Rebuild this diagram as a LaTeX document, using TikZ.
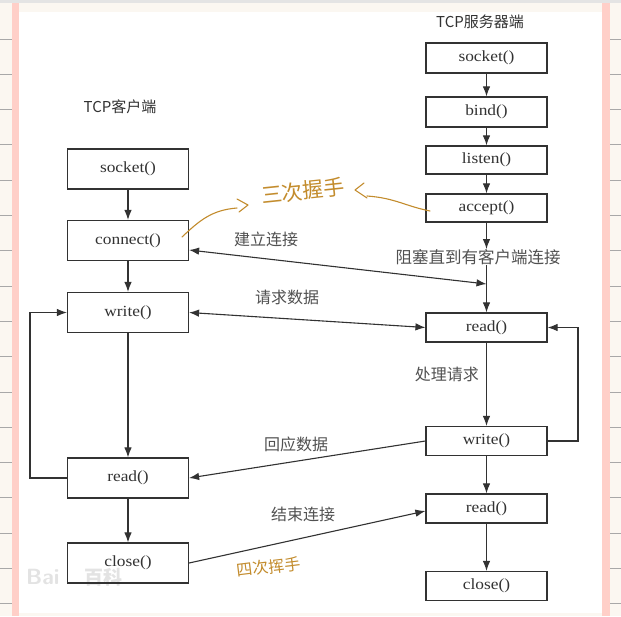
\documentclass[tikz,border=0pt]{standalone}
\usepackage{fontspec}
\setmainfont{Liberation Serif}
\newfontfamily\cjk{Noto Sans CJK SC}
\newfontfamily\boxfont[FakeStretch=1.12]{Liberation Serif}
\usetikzlibrary{arrows.meta,calc}
\definecolor{cream}{RGB}{251,247,241}
\definecolor{pinkstrip}{RGB}{255,207,200}
\definecolor{topbar}{RGB}{228,228,228}
\definecolor{marginline}{RGB}{168,168,168}
\definecolor{ink}{RGB}{50,50,50}
\definecolor{hw}{RGB}{195,140,45}
\tikzset{
  fn/.style={draw=ink, line width=1.2pt, minimum width=121pt, inner sep=0pt, font=\boxfont\fontsize{15.5}{15.5}\selectfont, text=ink},
  cbox/.style={fn, minimum height=40pt},
  sbox/.style={fn, minimum height=29pt},
  lbl/.style={font=\cjk\fontsize{16}{16}\selectfont, text=ink!85, inner sep=1pt},
  conn/.style={draw=ink, line width=1.1pt},
  arr/.style={conn, -{Latex[length=10pt,width=7.5pt]}},
  darr/.style={conn, {Latex[length=10pt,width=7.5pt]}-{Latex[length=10pt,width=7.5pt]}},
  hand/.style={draw=hw, line width=1.1pt, line cap=round, line join=round},
  handtext/.style={text=hw, font=\cjk\fontsize{21}{21}\selectfont}
}
\begin{document}
\begin{tikzpicture}[x=1pt,y=-1pt]
% background
\fill[cream] (0,0) rectangle (621,616);
\useasboundingbox (0,0) rectangle (621,616);
\fill[white] (19,12) rectangle (602,613);
\fill[topbar] (0,0) rectangle (621,3);
\fill[pinkstrip] (12,3) rectangle (19,616);
\fill[pinkstrip] (602,3) rectangle (610,616);
\foreach \k in {0,...,16}{
  \draw[marginline, line width=0.9pt] (0,{39+35.3*\k}) -- (12,{39+35.3*\k});
  \draw[marginline, line width=0.9pt] (610,{39+35.3*\k}) -- (621,{39+35.3*\k});
}
% watermark
\node[text=gray!22, font=\sffamily\bfseries\fontsize{22}{22}\selectfont, anchor=west, inner sep=0pt] (wm1) at (26,577) {Bai};
\node[text=gray!22, font=\cjk\bfseries\fontsize{19}{19}\selectfont, anchor=west, inner sep=0pt] (wm2) at (84,577) {百科};

% titles
\node[font=\cjk\fontsize{15}{15}\selectfont, text=ink] (ts) at (480,22) {TCP服务器端};
\node[font=\cjk\fontsize{15}{15}\selectfont, text=ink] (tc) at (120,107) {TCP客户端};

% client boxes
\node[cbox] (csock) at (128,169) {socket()};
\node[cbox] (cconn) at (128,240.5) {connect()};
\node[cbox] (cwrite) at (128,312.5) {write()};
\node[cbox] (cread) at (128,478) {read()};
\node[cbox] (cclose) at (128,563) {close()};

% server boxes
\node[sbox, minimum height=30pt] (ssock) at (486.5,58) {socket()};
\node[sbox, minimum height=30pt] (sbind) at (486.5,112) {bind()};
\node[sbox, minimum height=28pt] (slisten) at (486.5,160) {listen()};
\node[sbox, minimum height=28pt] (saccept) at (486.5,208) {accept()};
\node[sbox] (sread) at (486.5,327.5) {read()};
\node[sbox] (swrite) at (486.5,441) {write()};
\node[sbox] (sread2) at (486.5,508.5) {read()};
\node[sbox] (sclose) at (486.5,586) {close()};

\node[lbl, font=\cjk\fontsize{16.5}{16.5}\selectfont] (block) at (478,257) {阻塞直到有客户端连接};
\coordinate (blk) at (486.5,284);

% client vertical arrows
\draw[arr] (csock) -- (cconn);
\draw[arr] (cconn) -- (cwrite);
\draw[arr] (cwrite) -- (cread);
\draw[arr] (cread) -- (cclose);

% server vertical arrows
\draw[arr] (ssock) -- (sbind);
\draw[arr] (sbind) -- (slisten);
\draw[arr] (slisten) -- (saccept);
\draw[arr] (saccept.south) -- ([yshift=-1pt]block.north -| saccept.south);
\draw[arr] ([yshift=1pt]block.south -| sread.north) -- (sread.north);
\draw[arr] (sread) -- node[lbl, left=6pt, pos=0.38] (lp) {处理请求} (swrite);
\draw[arr] (swrite) -- (sread2);
\draw[arr] (sread2) -- (sclose);

% cross connectors
\draw[darr] ([yshift=-9.5pt]cconn.east) -- (blk);
\draw[darr] (cwrite.east) -- (sread.west);
\draw[arr] (swrite.west) -- (cread.east);
\draw[arr] (cclose.east) -- ([yshift=-2.5pt]sread2.west);

% labels
\node[lbl] (l1) at (266,239) {建立连接};
\node[lbl] (l2) at (287,297) {请求数据};
\node[lbl] (l3) at (296,444) {回应数据};
\node[lbl] (l4) at (303,514) {结束连接};

% loops
\coordinate (cl) at (30,478);
\draw[arr] (cread.west) -- (cl) |- (cwrite.west);
\coordinate (sl) at (578,441);
\draw[arr] (swrite.east) -- (sl) |- (sread.east);

% handwritten notes
\coordinate (h1s) at (182,237);
\coordinate (h1e) at (237,208);
\draw[hand] (h1s) .. controls (200,220) and (212,210) .. (h1e);
\coordinate (h1t) at (248,205);
\draw[hand] (237,199) -- (h1t) -- (239,212);
\node[handtext, rotate=6] (san) at (303,191) {三次握手};

\coordinate (h2s) at (430,211);
\coordinate (h2e) at (367,196);
\draw[hand] (h2s) .. controls (405,206) and (395,198) .. (h2e);
\coordinate (h2t) at (355,190);
\draw[hand] (364,183) -- (h2t) -- (367,198);

\node[handtext, font=\cjk\fontsize{16}{16}\selectfont, rotate=7] (si) at (269,567) {四次挥手};
\end{tikzpicture}
\end{document}
